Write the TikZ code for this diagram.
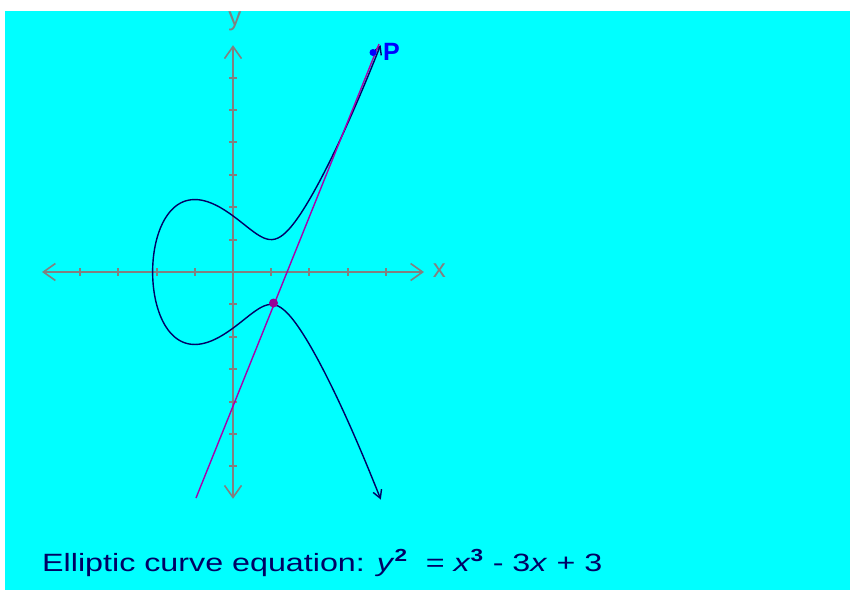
\documentclass[tikz,border=0pt]{standalone}
\usepackage{fontspec}
\setmainfont{Liberation Sans}
\usepackage{graphicx}
\usetikzlibrary{arrows.meta}
\definecolor{bgcyan}{RGB}{0,255,255}
\definecolor{axisgray}{RGB}{130,128,128}
\definecolor{curvenavy}{RGB}{0,0,102}
\definecolor{linemag}{RGB}{170,0,170}
\definecolor{dotmag}{RGB}{150,0,150}
\definecolor{pblue}{RGB}{0,0,255}
\definecolor{textnavy}{RGB}{0,0,100}
\tikzset{
  axisline/.style={draw=axisgray, line width=2pt, {Straight Barb[length=12pt,width=17pt,line width=1.6pt]}-{Straight Barb[length=12pt,width=17pt,line width=1.6pt]}},
  tickmark/.style={draw=axisgray, line width=2pt},
  curveline/.style={draw=curvenavy, line width=1.4pt, {Straight Barb[length=8pt,width=9pt,line width=1.4pt]}-{Straight Barb[length=8pt,width=9pt,line width=1.4pt]}},
  secant/.style={draw=linemag, line width=1.4pt},
  axislabel/.style={text=axisgray, font=\fontsize{26}{28}\selectfont, inner sep=0pt},
  pointdot/.style={circle, inner sep=0pt, minimum size=#1},
}
\begin{document}
\begin{tikzpicture}[x=1pt, y=-1pt,
  declare function={gfun(\u)=\u*\u-2.1038*\u+1.42598;}]
\useasboundingbox (0,0) rectangle (850,590);
\fill[white] (0,0) rectangle (850,590);
\fill[bgcyan] (5,11) rectangle (850,590);

\begin{scope}[shift={(233,272)}, x=38.2pt, y=32.4pt]
  % axes
  \draw[axisline] (-5,0) -- (5,0);
  \draw[axisline] (0,-7) -- (0,7);
  \foreach \i in {-4,-3,-2,-1,1,2,3,4}
    \draw[tickmark] (\i,-0.11) -- (\i,0.11);
  \foreach \j in {-6,-5,-4,-3,-2,-1,1,2,3,4,5,6}
    \draw[tickmark] (-0.11,\j) -- (0.11,\j);
  \node[axislabel] (xl) at (5.4,0.05) {x};
  \node[axislabel] (yl) at (0.05,7.75) {y};
  % elliptic curve y^2 = x^3 - 3x + 3
  \draw[curveline] plot[domain=-2.444:2.444, samples=240, variable=\t, smooth]
    ({-2.1038+\t*\t}, {\t*sqrt(gfun(-2.1038+\t*\t))});
\end{scope}

% secant line
\coordinate (lb) at (196,498);
\coordinate (lt) at (379,44);
\draw[secant] (lb) -- (lt);

% points
\node[pointdot=9pt, fill=dotmag] (Q) at (273.5,303) {};
\node[pointdot=7pt, fill=pblue] (P) at (373,52.5) {};
\node[anchor=west, text=pblue, font=\fontsize{25}{27}\selectfont\bfseries, inner sep=0pt] (Pl) at (383,52) {P};

% equation
\node[anchor=base west, inner sep=0pt, text=textnavy] (eq) at (42,571)
  {\resizebox{560pt}{\height}{\fontsize{25}{27}\selectfont Elliptic curve equation: \textit{y}\textsuperscript{\textbf{2}}\ \ = \textit{x}\textsuperscript{\textbf{3}} - 3\textit{x} + 3}};
\end{tikzpicture}
\end{document}
